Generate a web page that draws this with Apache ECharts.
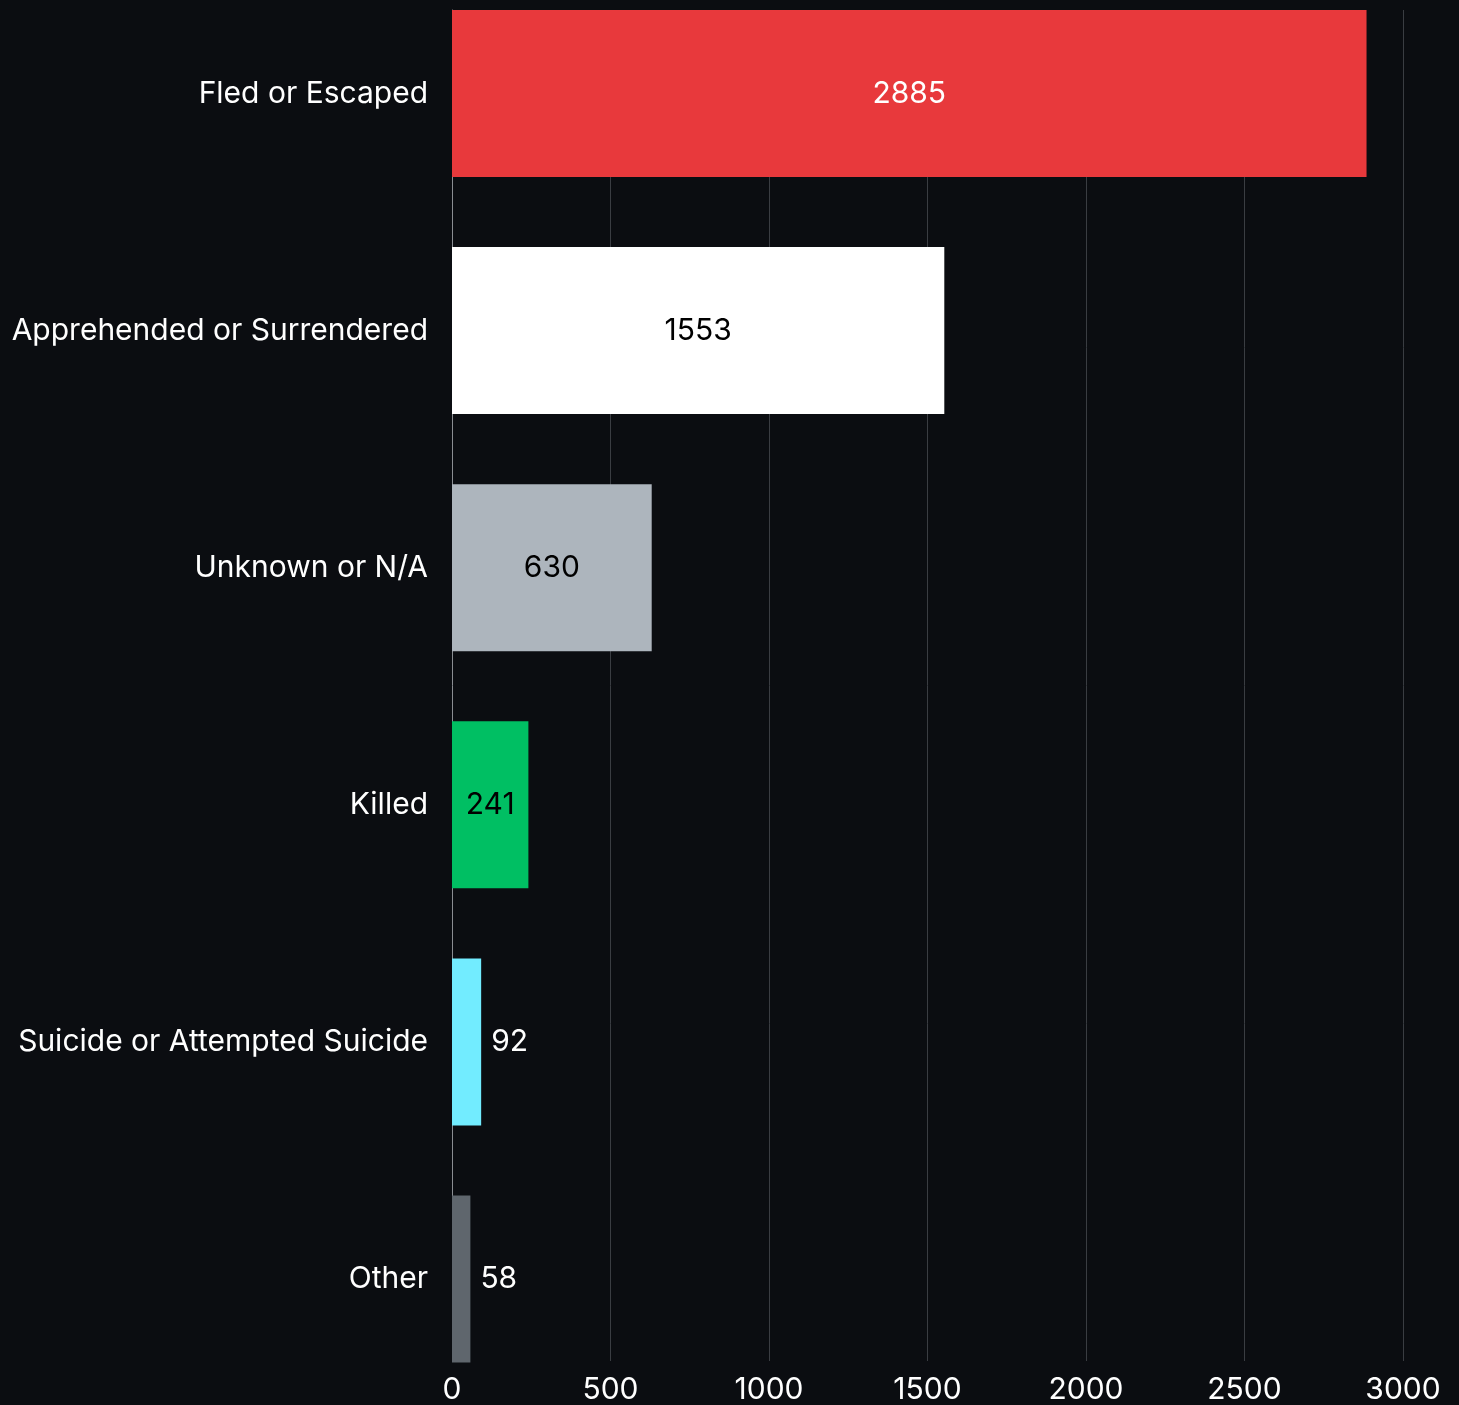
<!DOCTYPE html>
<html><head><meta charset="utf-8">
<script src="https://cdn.jsdelivr.net/npm/echarts@6/dist/echarts.min.js"></script>
<style>html,body{margin:0;padding:0;background:#0b0d11;}#c{width:1459px;height:1405px;}</style>
</head><body><div id="c"></div>
<script>
const categories = ["Fled or Escaped","Apprehended or Surrendered","Unknown or N/A","Killed","Suicide or Attempted Suicide","Other"];
const values = [2885,1553,630,241,92,58];
const barColors = ["#e8393c","#ffffff","#adb5bd","#00bf63","#72ecff","#5f666d"];
const labelColors = ["#ffffff","#000000","#000000","#000000","#ffffff","#ffffff"];
const labelInside = [true,true,true,true,false,false];
const xTicks = [0,500,1000,1500,2000,2500,3000];

const font = "Inter, 'Noto Sans', sans-serif";
const chart = echarts.init(document.getElementById('c'), null, {renderer:'canvas'});
chart.setOption({
  backgroundColor:'#0b0d11',
  animation:false,
  grid:[
    {left:452,right:56,top:10,bottom:42,containLabel:false},
    {left:452,right:56,top:93.5,bottom:126,containLabel:false}
  ],
  xAxis:[
    {gridIndex:0,type:'value',min:xTicks[0],max:xTicks[xTicks.length-1],interval:500,
      axisLine:{show:false},axisTick:{show:false},
      splitLine:{show:true,lineStyle:{color:'#3a3d42',width:1}},
      axisLabel:{color:'#ffffff',fontSize:30,fontFamily:font,margin:14,formatter:v=>String(v)}},
    {gridIndex:1,type:'value',min:xTicks[0],max:xTicks[xTicks.length-1],interval:500,show:false}
  ],
  yAxis:[
    {gridIndex:0,type:'category',inverse:true,data:categories,
      axisLine:{show:true,lineStyle:{color:'#8a8d92',width:1}},axisTick:{show:false},
      axisLabel:{show:false}},
    {gridIndex:1,type:'category',inverse:true,boundaryGap:false,data:categories,
      axisLine:{show:false},axisTick:{show:false},
      axisLabel:{color:'#ffffff',fontSize:30,fontFamily:font,margin:24}}
  ],
  series:[{type:'bar',xAxisIndex:1,yAxisIndex:1,barWidth:167,clip:false,
    data:values.map((v,i)=>({value:v,itemStyle:{color:barColors[i]},
      label:{show:true,position:labelInside[i]?'inside':'right',distance:10,color:labelColors[i],fontSize:30,fontFamily:font}}))
  }]
});
</script></body></html>
